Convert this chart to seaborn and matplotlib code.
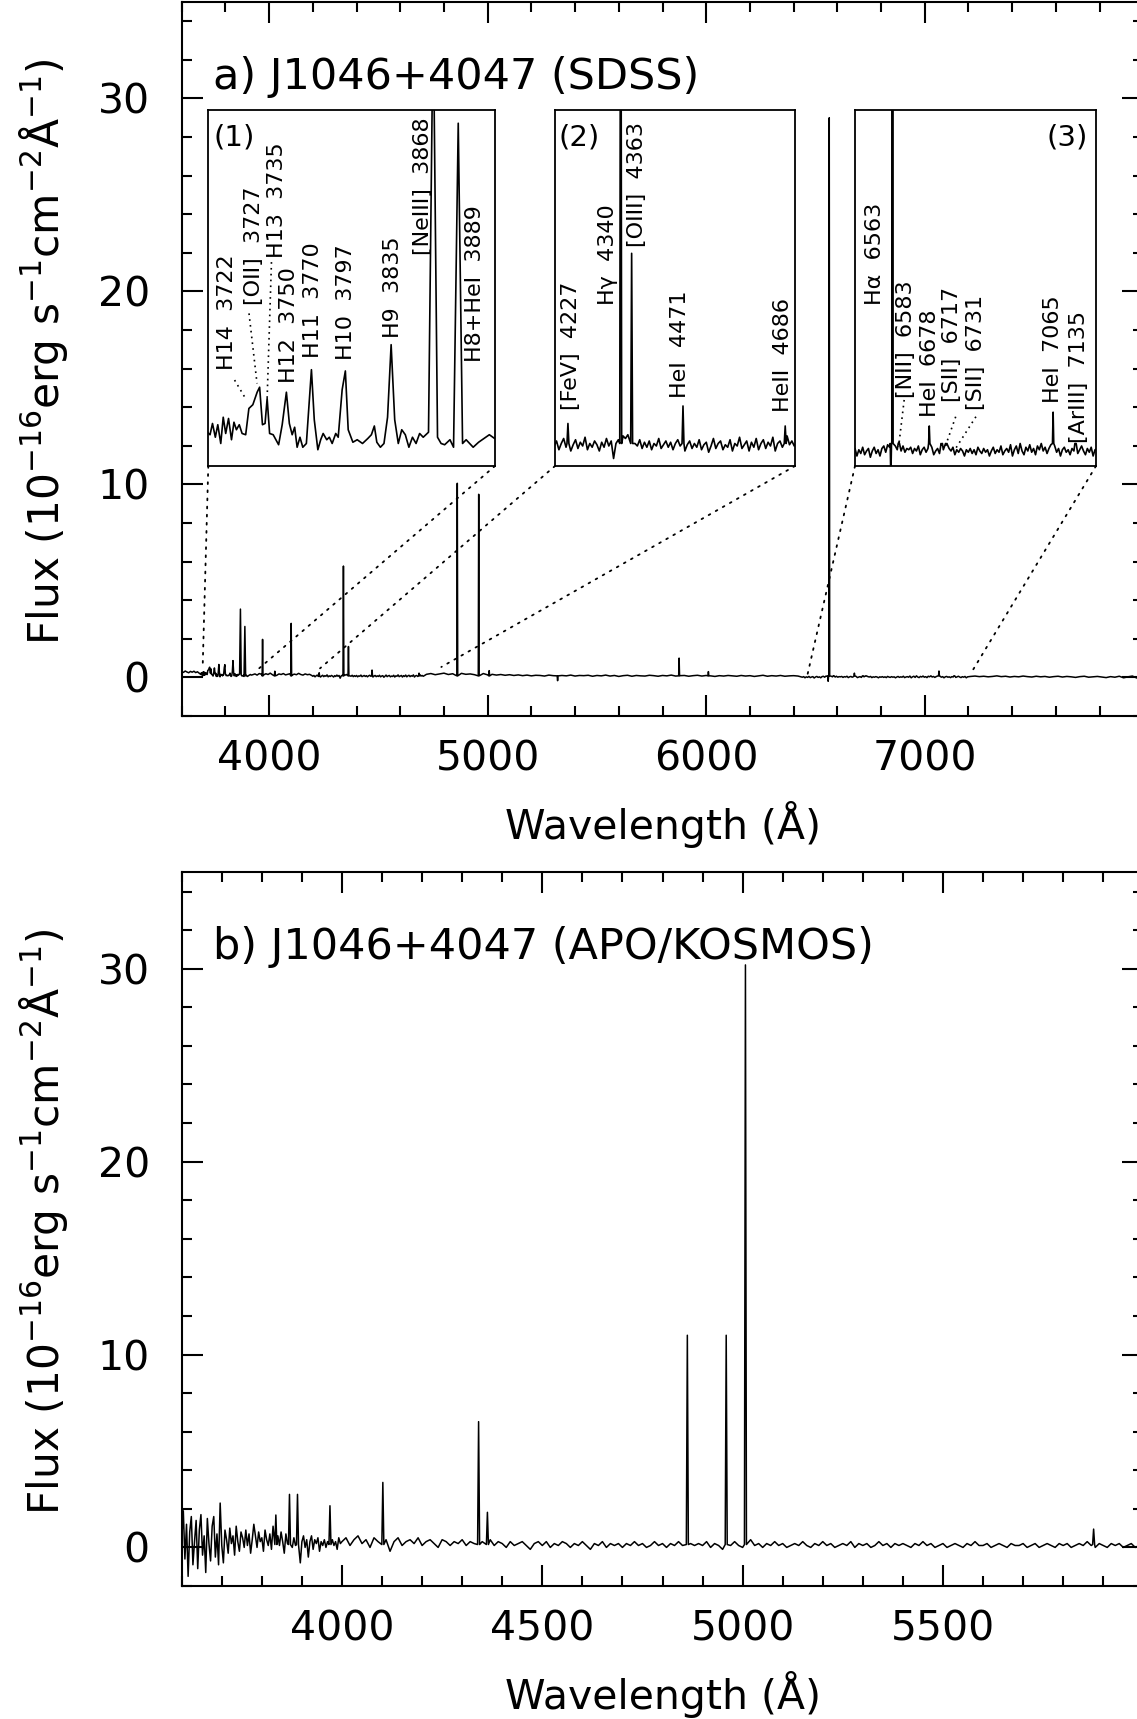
import numpy as np
import matplotlib.pyplot as plt
import seaborn as sns
from matplotlib.patches import ConnectionPatch
from matplotlib.ticker import MultipleLocator

sns.set_theme(style="ticks", rc={"axes.edgecolor": "black", "text.color": "black",
                                 "axes.labelcolor": "black", "xtick.color": "black",
                                 "ytick.color": "black"})
plt.rcParams["font.family"] = ["DejaVu Sans"]
plt.rcParams["mathtext.default"] = "regular"

# ---------------- panel a: SDSS spectrum ----------------
# blue end (3600-3680, 8 A steps)
sdss_a_flux = [0.30, 0.26, 0.33, 0.28, 0.24, 0.31, 0.27, 0.32, 0.25, 0.29, 0.22]

# zoom region (1), read point by point (wavelength, flux)
sdss_ins1_points = [
    (3687.8, 0.15), (3689.8, 0.24), (3692.1, 0.13), (3694.1, 0.23), (3696.5, 0.08),
    (3698.5, 0.29), (3700.5, 0.16), (3702.8, 0.28), (3705.2, 0.11), (3707.2, 0.25),
    (3709.2, 0.19), (3711.5, 0.23), (3713.8, 0.16), (3716.7, 0.15), (3719.3, 0.36),
    (3722.5, 0.39), (3726.0, 0.49), (3728.0, 0.53), (3730.3, 0.23), (3732.4, 0.24),
    (3734.1, 0.44), (3736.1, 0.16), (3739.0, 0.15), (3743.4, 0.07), (3746.3, 0.23),
    (3749.7, 0.49), (3752.1, 0.24), (3754.4, 0.15), (3756.4, 0.21), (3758.4, 0.05),
    (3760.7, 0.13), (3763.0, 0.05), (3765.9, 0.08), (3770.0, 0.67), (3772.3, 0.27),
    (3775.2, 0.03), (3777.5, 0.11), (3779.5, 0.16), (3782.4, 0.11), (3784.5, 0.13),
    (3786.8, 0.08), (3789.7, 0.16), (3791.7, 0.13), (3794.9, 0.51), (3797.5, 0.66),
    (3799.8, 0.19), (3803.6, 0.09), (3807.1, 0.11), (3811.4, 0.08), (3815.7, 0.12),
    (3818.6, 0.15), (3821.0, 0.22), (3823.0, 0.09), (3825.9, 0.05), (3828.8, 0.08),
    (3831.7, 0.29), (3834.6, 0.87), (3837.5, 0.27), (3840.4, 0.08), (3843.2, 0.19),
    (3846.1, 0.15), (3849.0, 0.05), (3851.9, 0.13), (3854.8, 0.08), (3857.7, 0.16),
    (3860.6, 0.13), (3864.9, 0.17), (3868.7, 3.54), (3872.2, 0.13), (3875.1, 0.08),
    (3878.0, 0.07), (3882.3, 0.11), (3885.2, 0.05), (3889.0, 2.64), (3892.5, 0.08),
    (3895.4, 0.11), (3898.3, 0.08), (3901.1, 0.05), (3905.5, 0.09), (3911.3, 0.13),
    (3914.2, 0.15), (3918.5, 0.12),
]

# 3925-4195, 10 A steps
sdss_c_flux = [0.14, 0.18, 0.12, 0.20, 0.16, 0.13, 0.19, 0.15, 0.22, 0.14,
               0.17, 0.11, 0.18, 0.15, 0.20, 0.13, 0.16, 0.19, 0.12, 0.17,
               0.14, 0.21, 0.15, 0.12, 0.18, 0.14, 0.16, 0.10]

# zoom region (2): 4200-4710, 5 A steps
sdss_d_flux = [0.06, 0.10, 0.03, 0.08, 0.12, 0.05, 0.09, 0.02, 0.07, 0.11,
               0.04, 0.09, 0.06, 0.13, 0.03, 0.08, 0.05, 0.10, 0.07, 0.02,
               0.09, 0.05, 0.12, 0.06, 0.10, -0.04, 0.08, 0.11, 0.07, 0.14,
               0.12, 0.15, 0.09, 0.13, 0.08, 0.06, 0.11, 0.04, 0.09, 0.05,
               0.10, 0.03, 0.08, 0.06, 0.12, 0.04, 0.07, 0.10, 0.05, 0.09,
               0.03, 0.08, 0.11, 0.06, 0.09, 0.02, 0.07, 0.10, 0.04, 0.08,
               0.05, 0.11, 0.03, 0.07, 0.09, 0.01, 0.06, 0.12, 0.04, 0.08,
               0.10, 0.03, 0.07, 0.05, 0.11, 0.02, 0.08, 0.06, 0.13, 0.04,
               0.07, 0.10, 0.02, 0.09, 0.05, 0.12, 0.03, 0.08, 0.11, 0.04,
               0.09, 0.06, 0.13, 0.02, 0.08, 0.10, 0.05, 0.11, 0.14, 0.07,
               0.10, 0.06, 0.09]

# 4720-6420, 20 A steps
sdss_e_flux = [0.16, 0.20, 0.14, 0.18, 0.22, 0.15, 0.19, 0.17, 0.21, 0.16,
               0.18, 0.14, 0.17, 0.20, 0.13, 0.16, 0.12, 0.15, 0.11, 0.14,
               0.10, 0.13, 0.09, 0.12, 0.08, 0.11, 0.10, 0.07, 0.12, 0.09,
               0.10, 0.10, 0.08, 0.12, 0.07, 0.10, 0.09, 0.11, 0.06, 0.10,
               0.08, 0.12, 0.07, 0.10, 0.05, 0.09, 0.11, 0.06, 0.10, 0.08,
               0.07, 0.11, 0.09, 0.06, 0.10, 0.08, 0.12, 0.07, 0.09, 0.10,
               0.06, 0.09, 0.11, 0.07, 0.10, 0.08, 0.05, 0.09, 0.07, 0.10,
               0.08, 0.06, 0.10, 0.07, 0.09, 0.05, 0.08, 0.11, 0.06, 0.09,
               0.07, 0.10, 0.06, 0.08, 0.09, 0.07]

# zoom region (3): 6440-7196, 6 A steps
sdss_f_flux = [0.01, 0.04, -0.02, 0.03, 0.00, 0.05, -0.01, 0.02, 0.04, -0.03,
               0.02, 0.05, 0.00, 0.03, -0.02, 0.04, 0.06, 0.01, 0.07, 0.05,
               0.09, 0.08, 0.06, 0.03, 0.05, 0.02, 0.06, 0.01, 0.04, 0.03,
               0.05, 0.00, 0.04, 0.02, 0.06, -0.01, 0.03, 0.05, 0.01, 0.04,
               0.03, 0.05, -0.01, 0.02, 0.04, 0.00, 0.06, 0.03, 0.05, 0.07,
               0.04, 0.02, 0.05, -0.01, 0.03, 0.01, 0.04, 0.02, -0.02, 0.03,
               0.01, 0.04, 0.00, 0.03, -0.01, 0.05, 0.02, 0.00, 0.04, 0.01,
               0.03, -0.02, 0.02, 0.05, 0.00, 0.03, 0.01, 0.06, -0.01, 0.02,
               0.04, 0.01, 0.07, -0.02, 0.03, 0.06, 0.00, 0.08, 0.02, -0.01,
               0.05, 0.02, 0.07, 0.01, 0.04, -0.01, 0.06, 0.03, 0.08, 0.02,
               0.05, 0.00, 0.04, 0.07, 0.03, 0.06, 0.01, 0.04, -0.02, 0.03,
               0.05, 0.01, 0.03, -0.01, 0.04, 0.02, 0.05, 0.00, 0.03, 0.06,
               0.02, -0.01, 0.04, 0.01, 0.05, -0.02, 0.03]

# red end: 7210-7990, 20 A steps
sdss_g_flux = [0.05, 0.07, 0.04, 0.06, 0.03, 0.05, 0.08, 0.04, 0.06, 0.02,
               0.05, 0.03, 0.07, 0.04, 0.02, 0.06, 0.03, 0.05, 0.01, 0.04,
               0.06, 0.02, 0.05, 0.03, 0.00, 0.04, 0.06, 0.01, 0.03, 0.05,
               0.02, -0.01, 0.04, 0.01, 0.06, -0.02, 0.03, 0.07, -0.03, 0.02]

# narrow emission lines (and two bad pixels) outside region (1)
sdss_line_wave = [3970, 4026, 4101, 4229, 4340, 4363, 4471, 4686, 4861, 4959, 5007,
                  5320, 5876, 6010, 6558, 6563, 6583, 6678, 6717, 6731, 7065, 7135]
sdss_line_peak = [1.97, 0.32, 2.80, 0.24, 5.77, 1.60, 0.38, 0.22, 10.06, 9.49, 0.35,
                  -0.17, 1.00, 0.30, -0.20, 29.0, 0.09, 0.22, 0.07, 0.07, 0.33, 0.08]

# ---------------- panel b: APO/KOSMOS spectrum ----------------
# 3600-3996, 4 A steps
apo_a_flux = [0.4, 1.9, -0.6, 1.2, -1.5, 0.8, 1.6, -0.9, 0.3, 1.4,
              -1.1, 0.9, 1.7, -0.4, 0.6, -1.3, 1.5, 0.2, -0.7, 1.1,
              1.6, -0.5, 0.7, -0.9, 2.3, 0.1, -0.8, 0.9, 0.4, -0.3,
              1.0, 0.2, 0.6, -0.4, 1.1, 0.3, -0.2, 0.8, 0.5, 0.0,
              0.9, 0.1, 0.7, -0.3, 0.4, 1.2, 0.6, 0.0, 0.8, 0.3,
              0.5, -0.2, 0.9, 0.4, 0.1, 0.7, -0.1, 1.1, 0.3, 0.2,
              0.6, 0.1, 0.8, 0.3, -0.3, 0.7, 0.2, 0.9, 0.4, 0.0,
              0.5, 0.1, 0.6, -0.2, -0.8, 0.3, 0.6, 0.0, 0.4, -0.5,
              0.3, 0.6, -0.1, 0.4, 0.2, 0.5, -0.2, 0.3, 0.1, 0.4,
              0.0, 0.3, 0.2, -0.3, 0.4, 0.1, 0.3, -0.1, 0.5, 0.2]
# 4000-5990, 10 A steps
apo_b_flux = [0.3, 0.5, 0.1, 0.4, 0.6, 0.2, 0.4, 0.0, 0.5, 0.3,
              0.2, 0.4, -0.2, 0.3, 0.5, 0.1, 0.3, 0.4, 0.2, 0.5,
              0.1, 0.3, 0.4, 0.2, 0.0, 0.4, 0.3, 0.1, 0.3, 0.2,
              0.4, 0.1, 0.3, 0.2, 0.0, 0.3, 0.2, 0.4, 0.1, 0.3,
              0.2, 0.0, 0.3, 0.1, 0.2, 0.3, 0.1, -0.1, 0.2, 0.3,
              0.1, 0.3, 0.0, 0.2, 0.1, 0.3, 0.2, 0.0, 0.2, 0.1,
              0.3, 0.1, -0.1, 0.2, 0.1, 0.3, 0.0, 0.2, 0.1, 0.2,
              0.0, 0.2, 0.1, 0.3, 0.1, 0.2, 0.0, 0.1, 0.3, 0.1,
              0.2, 0.0, 0.2, 0.1, 0.3, 0.1, 0.0, 0.2, 0.1, 0.2,
              0.1, 0.3, 0.0, 0.2, 0.1, -0.1, 0.2, 0.1, 0.3, 0.1,
              0.0, 0.2, 0.4, 0.1, 0.2, 0.0, 0.2, 0.1, 0.3, 0.1,
              0.2, 0.0, 0.1, 0.2, 0.1, 0.3, 0.1, 0.0, 0.2, 0.1,
              0.3, 0.1, 0.2, 0.0, 0.1, 0.2, 0.1, 0.3, 0.0, 0.2,
              0.1, 0.2, 0.0, 0.1, 0.3, 0.1, 0.2, 0.0, 0.2, 0.1,
              0.2, 0.1, 0.0, 0.2, 0.1, 0.3, 0.1, 0.2, 0.0, 0.1,
              0.2, 0.0, 0.1, 0.2, 0.1, 0.0, 0.2, 0.1, 0.3, 0.1,
              0.1, 0.2, 0.0, 0.1, 0.2, 0.1, 0.0, 0.2, 0.1, 0.1,
              0.2, 0.0, 0.1, 0.2, 0.0, 0.1, 0.2, 0.1, 0.0, 0.2,
              0.1, 0.2, 0.0, 0.1, 0.2, 0.1, 0.3, 0.1, 0.0, 0.2,
              0.1, 0.0, 0.2, 0.1, 0.2, 0.0, 0.1, 0.2, 0.0, 0.1]
apo_line_wave = [3835, 3869, 3889, 3970, 4102, 4341, 4363, 4862, 4959, 5007, 5876]
apo_line_peak = [1.68, 2.75, 2.75, 2.16, 3.37, 6.52, 1.82, 11.0, 11.0, 30.2, 0.95]

# ---------------- labels of the zoom panels ----------------
ins1_labels = ["H14  3722", "[OII]  3727", "H13  3735", "H12  3750", "H11  3770",
               "H10  3797", "H9  3835", "[NeIII]  3868", "H8+HeI  3889"]
ins2_labels = ["[FeV]  4227", "H\u03b3  4340", "[OIII]  4363", "HeI  4471", "HeII  4686"]
ins3_labels = ["H\u03b1  6563", "[NII]  6583", "HeI  6678", "[SII]  6717", "[SII]  6731",
               "HeI  7065", "[ArIII]  7135"]


def build(pieces, line_wave, line_peak, base, half):
    w = np.concatenate([np.asarray(p[0], float) for p in pieces])
    f = np.concatenate([np.asarray(p[1], float) for p in pieces])
    keep = np.ones(len(w), bool)
    for c in line_wave:
        keep &= np.abs(w - c) > half + 1
    w, f = list(w[keep]), list(f[keep])
    for c, p in zip(line_wave, line_peak):
        w += [c - half, c, c + half]
        f += [base, p, base]
    order = np.argsort(w, kind="stable")
    return np.array(w)[order], np.array(f)[order]


ins1_w = [p[0] for p in sdss_ins1_points]
ins1_f = [p[1] for p in sdss_ins1_points]
sdss_w, sdss_f = build(
    [(np.arange(3600, 3686, 8), sdss_a_flux), (ins1_w, ins1_f),
     (np.arange(3925, 4200, 10), sdss_c_flux), (np.arange(4200, 4711, 5), sdss_d_flux),
     (np.arange(4720, 6440, 20), sdss_e_flux), (np.arange(6440, 7200, 6), sdss_f_flux),
     (np.arange(7210, 8000, 20), sdss_g_flux)],
    sdss_line_wave, sdss_line_peak, 0.08, 2.0)
apo_w, apo_f = build(
    [(np.arange(3600, 4000, 4), apo_a_flux), (np.arange(4000, 6000, 10), apo_b_flux)],
    apo_line_wave, apo_line_peak, 0.15, 2.5)

fig = plt.figure(figsize=(11.37, 17.19), dpi=100)
ax_a = fig.add_axes([0.15981, 0.58348, 0.84573, 0.41536])
ax_b = fig.add_axes([0.15981, 0.07737, 0.84573, 0.41518])

ylab = "Flux (10$^{-16}$erg s$^{-1}$cm$^{-2}$\u00c5$^{-1}$)"
for ax, w, f, xlim, xticks, xminor, title in [
        (ax_a, sdss_w, sdss_f, (3600, 8000), [4000, 5000, 6000, 7000], 200,
         "a) J1046+4047 (SDSS)"),
        (ax_b, apo_w, apo_f, (3600, 6000), [4000, 4500, 5000, 5500], 100,
         "b) J1046+4047 (APO/KOSMOS)")]:
    sns.lineplot(x=w, y=f, ax=ax, color="black", linewidth=1.1, estimator=None, sort=False)
    ax.set_xlim(*xlim)
    ax.set_ylim(-2, 35)
    ax.set_xticks(xticks)
    ax.set_yticks([0, 10, 20, 30])
    ax.xaxis.set_minor_locator(MultipleLocator(xminor))
    ax.yaxis.set_minor_locator(MultipleLocator(2))
    ax.tick_params(which="both", direction="in", top=True, right=True, width=1.5, colors="black")
    ax.tick_params(which="major", length=15, labelsize=29.5)
    ax.tick_params(which="minor", length=7.5)
    ax.tick_params(axis="x", which="major", pad=17)
    ax.tick_params(axis="y", which="major", pad=23)
    for s in ax.spines.values():
        s.set_linewidth(1.5)
    ax.set_xlabel("Wavelength (\u00c5)", fontsize=29.5)
    ax.xaxis.set_label_coords(0.5, -0.119)
    ax.set_ylabel(ylab, fontsize=30.5)
    ax.yaxis.set_label_coords(-0.116, 0.51)
    ax.text(0.033, 0.878, title, transform=ax.transAxes, fontsize=31, va="baseline", ha="left")

# zoom panels inside panel a
ins_specs = [
    ([0.18320, 0.72891, 0.25216, 0.20739], (3686.4, 3918.8), "(1)", 0.091,
     [(3701.4, 0.667), (3723.1, 1.187), (3741.9, 1.56), (3751.5, 0.561), (3770.9, 0.761),
      (3797.8, 0.747), (3836.0, 0.921), (3860.6, 1.587), (3902.6, 0.734)], ins1_labels,
     [((3707.7, 0.587), (3717.3, 0.428)), ((3719.4, 1.12), (3725.9, 0.56)),
      ((3737.6, 1.53), (3734.1, 0.44))],
     [(3696, 0.55), (3945, 0.38)]),
    ([0.48813, 0.72891, 0.21108, 0.20739], (4201.8, 4706.6), "(2)", 0.10,
     [(4235.5, 0.348), (4312.9, 1.187), (4374.9, 1.653), (4463.9, 0.441), (4680.7, 0.334)],
     ins2_labels, [], [(4233, 0.47), (4788, 0.54)]),
    ([0.75198, 0.72891, 0.21196, 0.20739], (6446, 7199), "(3)", 0.88,
     [(6507.6, 1.187), (6605.6, 0.441), (6680.3, 0.294), (6749.3, 0.414), (6824.0, 0.348),
      (7065.5, 0.401), (7146.1, 0.081)], ins3_labels,
     [((6599.6, 0.428), (6582.3, 0.054)), ((6760.6, 0.294), (6726.0, 0.041)),
      ((6823.8, 0.294), (6760.6, 0.041))],
     [(6463, 0.12), (7211, 0.21)]),
]
for rect, xl, tag, tagx, lpos, ltxt, pointers, corners in ins_specs:
    ins = fig.add_axes(rect)
    ins.set_facecolor("white")
    sns.lineplot(x=sdss_w, y=sdss_f, ax=ins, color="black", linewidth=1.2,
                 estimator=None, sort=False)
    ins.set_xlim(*xl)
    ins.set_ylim(-0.1, 2.75)
    ins.set_xticks([])
    ins.set_yticks([])
    ins.set_xlabel("")
    ins.set_ylabel("")
    for s in ins.spines.values():
        s.set_linewidth(1.3)
    ins.text(tagx, 0.921, tag, transform=ins.transAxes, fontsize=21, ha="center", va="center")
    for (x, y), t in zip(lpos, ltxt):
        ins.text(x, y, t, rotation=90, fontsize=16, ha="center", va="bottom")
    for p0, p1 in pointers:
        ins.plot([p0[0], p1[0]], [p0[1], p1[1]], color="black", lw=1.2, ls=(0, (1, 2.5)))
    for cx, (mx, my) in zip([0, 1], corners):
        con = ConnectionPatch(xyA=(cx, 0), coordsA=ins.transAxes, xyB=(mx, my),
                              coordsB=ax_a.transData, color="black", lw=1.3,
                              ls=(0, (1, 3.5)))
        fig.add_artist(con)

fig.savefig("out.png", dpi=100)
